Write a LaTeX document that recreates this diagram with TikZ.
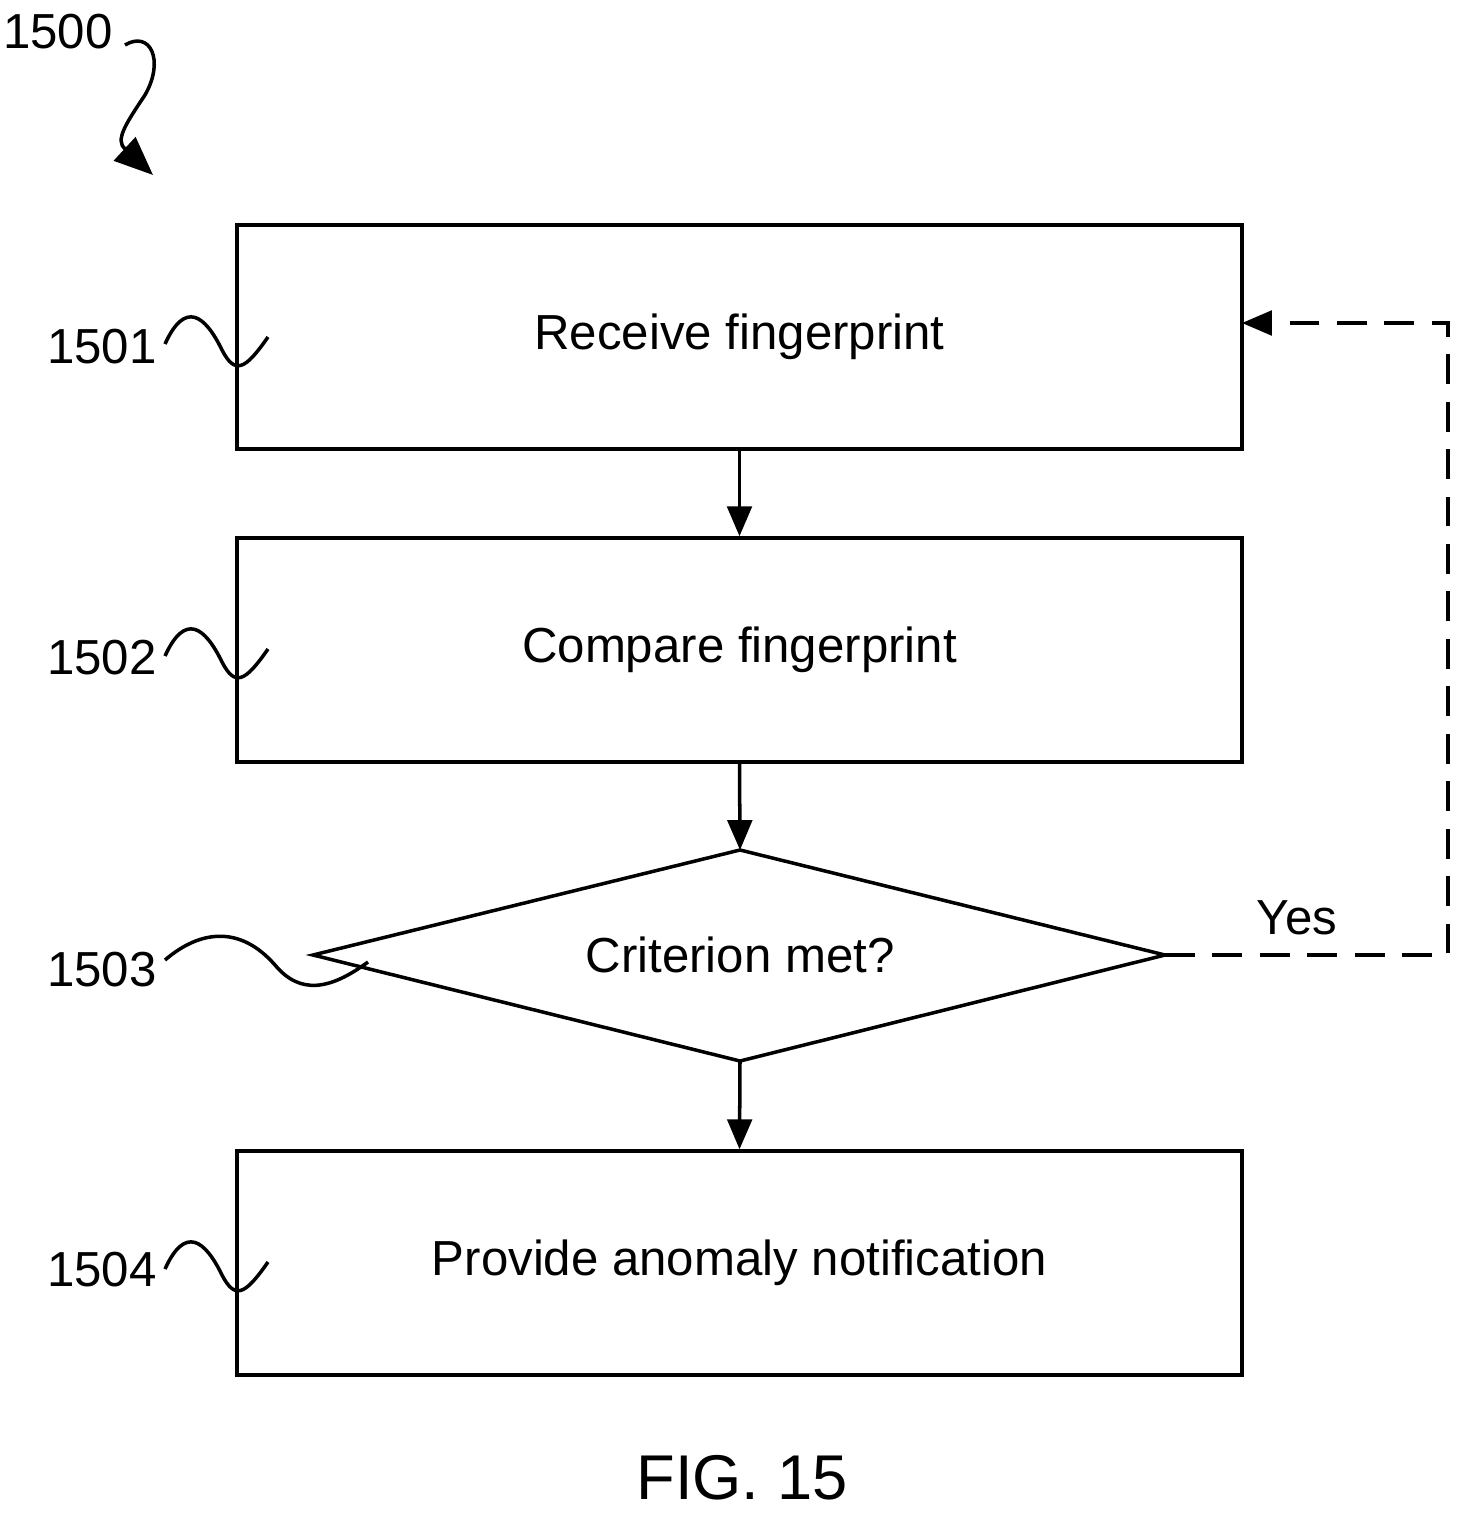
\documentclass[tikz,border=0pt]{standalone}
\usepackage{fontspec}
\setmainfont{Liberation Sans}
\usetikzlibrary{arrows.meta}
\begin{document}
\begin{tikzpicture}[x=0.02cm,y=-0.02cm,
  box/.style={draw,line width=2pt,minimum width=1005*0.02cm,minimum height=224*0.02cm,inner sep=0,font=\fontsize{28}{34}\selectfont},
  lbl/.style={font=\fontsize{28}{34}\selectfont},
  conn/.style={line width=2pt,-{Triangle[length=17pt,width=14pt]}},
  sq/.style={line width=2pt}]
\useasboundingbox (0,0) rectangle (1471,1521);
\node[box] (b1) at (739.5,337) {\raisebox{-6pt}{Receive fingerprint}};
\node[box] (b2) at (739.5,650) {\raisebox{-6pt}{Compare fingerprint}};
\coordinate (dl) at (313,955);\coordinate (dt) at (740,850);
\coordinate (dr) at (1165,955);\coordinate (db) at (740,1061);
\draw[line width=2pt] (dl)--(dt)--(dr)--(db)--cycle;
\node[lbl] (d3) at (740,955) {Criterion met?};
\node[box] (b4) at (739.5,1263) {\raisebox{-6pt}{Provide anomaly notification}};
\draw[conn] (b1.south) -- (b2.north);
\draw[conn] (b2.south) -- (dt);
\draw[conn] (db) -- (b4.north);
\coordinate (c1) at (1448,955);\coordinate (c2) at (1448,323);\coordinate (c3) at (1242,323);
\draw[conn,dash pattern=on 17pt off 10pt] (dr) -- (c1) -- (c2) -- (c3);
\node[lbl] (yes) at (1297,918) {Yes};
\node[lbl] (l1) at (102,347) {1501};
\node[lbl] (l2) at (102,658) {1502};
\node[lbl] (l3) at (102,970) {1503};
\node[lbl] (l4) at (102,1270) {1504};
\node[lbl] (l0) at (58,32) {1500};
\node[font=\fontsize{36}{42}\selectfont] (fig) at (742,1478) {FIG. 15};
\foreach \y in {340,652,1265}{
 \draw[sq] (165,\y+4) .. controls (185,\y-40) and (205,\y-25) .. (222,\y+10)
   .. controls (235,\y+35) and (245,\y+30) .. (268,\y-3);}
\draw[sq] (165,960) .. controls (200,930) and (240,925) .. (275,965)
  .. controls (300,995) and (330,990) .. (368,962);
\draw[line width=2pt,-{Triangle[length=22pt,width=18pt]}] (125,45) .. controls (150,30) and (165,60) .. (145,95)
  .. controls (125,125) and (115,140) .. (153,175);
\end{tikzpicture}
\end{document}
